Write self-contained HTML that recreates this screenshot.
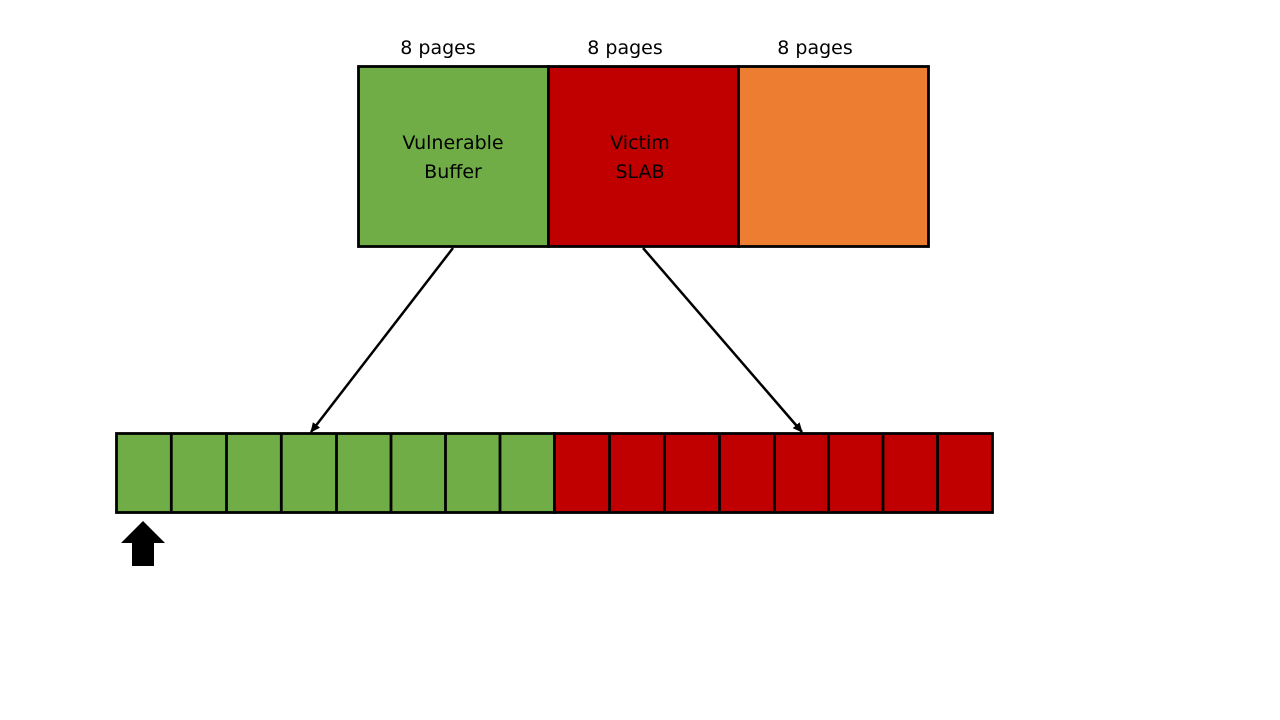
<!DOCTYPE html>
<html><head><meta charset="utf-8"><style>
html,body{margin:0;padding:0;background:#fff;}
svg{display:block;}
text{font-family:"DejaVu Sans","Liberation Sans",sans-serif;font-size:19px;fill:#000;}
</style></head><body>
<svg width="1280" height="720" viewBox="0 0 1280 720" xmlns="http://www.w3.org/2000/svg">
<defs>
<marker id="ah" markerWidth="12" markerHeight="12" refX="9" refY="5.5" orient="auto" markerUnits="userSpaceOnUse">
<path d="M0,1 L10,5.5 L0,10 z" fill="#000"/>
</marker>
</defs>
<text x="438" y="54" text-anchor="middle">8 pages</text>
<text x="625" y="54" text-anchor="middle">8 pages</text>
<text x="815" y="54" text-anchor="middle">8 pages</text>
<rect x="358.5" y="66.5" width="190" height="180" fill="#70ad47" stroke="#000" stroke-width="2.8"/>
<rect x="548.5" y="66.5" width="190" height="180" fill="#c00000" stroke="#000" stroke-width="2.8"/>
<rect x="738.5" y="66.5" width="190" height="180" fill="#ed7d31" stroke="#000" stroke-width="2.8"/>
<text x="453" y="149" text-anchor="middle">Vulnerable</text>
<text x="453" y="178" text-anchor="middle">Buffer</text>
<text x="640" y="149" text-anchor="middle">Victim</text>
<text x="640" y="178" text-anchor="middle">SLAB</text>
<line x1="453" y1="248" x2="311" y2="432" stroke="#000" stroke-width="2.5" marker-end="url(#ah)"/>
<line x1="643" y1="248" x2="802" y2="432" stroke="#000" stroke-width="2.5" marker-end="url(#ah)"/>
<g stroke="#000" stroke-width="2.8">
<rect x="116.5" y="433.5" width="438" height="79" fill="#70ad47"/>
<rect x="554.5" y="433.5" width="438" height="79" fill="#c00000"/>
<line x1="171.3" y1="433" x2="171.3" y2="513"/>
<line x1="226.5" y1="433" x2="226.5" y2="513"/>
<line x1="281.3" y1="433" x2="281.3" y2="513"/>
<line x1="336.5" y1="433" x2="336.5" y2="513"/>
<line x1="391" y1="433" x2="391" y2="513"/>
<line x1="445.5" y1="433" x2="445.5" y2="513"/>
<line x1="500" y1="433" x2="500" y2="513"/>
<line x1="609.5" y1="433" x2="609.5" y2="513"/>
<line x1="664.5" y1="433" x2="664.5" y2="513"/>
<line x1="719.5" y1="433" x2="719.5" y2="513"/>
<line x1="774.5" y1="433" x2="774.5" y2="513"/>
<line x1="828.5" y1="433" x2="828.5" y2="513"/>
<line x1="883" y1="433" x2="883" y2="513"/>
<line x1="937.5" y1="433" x2="937.5" y2="513"/>
</g>
<path d="M143,521 L165,543 L154,543 L154,566 L132,566 L132,543 L121,543 Z" fill="#000"/>
</svg>
</body></html>
